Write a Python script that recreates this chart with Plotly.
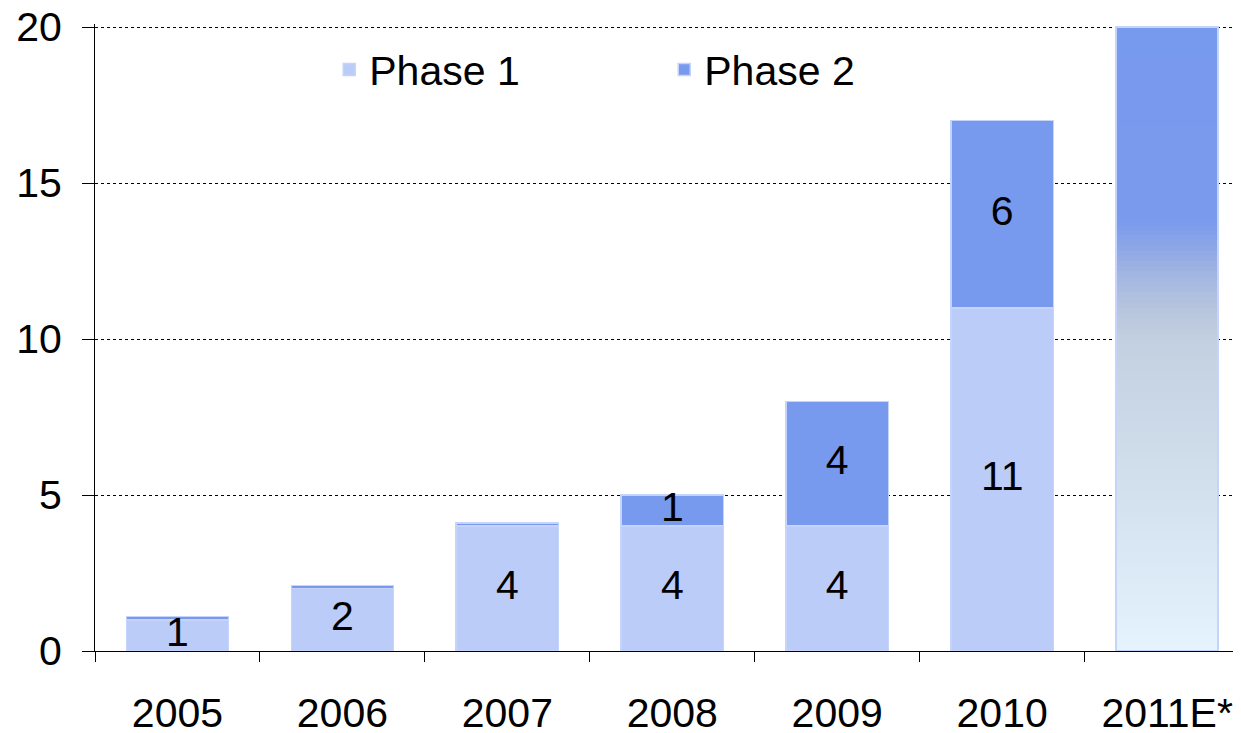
import plotly.graph_objects as go
from plotly.colors import sample_colorscale

years = ["2005", "2006", "2007", "2008", "2009", "2010"]
phase1 = [1, 2, 4, 4, 4, 11]
phase2 = [0.1, 0.1, 0.1, 1, 4, 6]
phase1_labels = ["1", "2", "4", "4", "4", "11"]
phase2_labels = ["", "", "", "1", "4", "6"]
est_year = "2011E*"
est_total = 20
categories = years + [est_year]

C1 = "#BBCCF8"
C2 = "#7799EE"
EDGE = "#C6D3FA"
FONT = "Liberation Sans, Arial, sans-serif"
FS = 41
BW = 0.62

grad_scale = [
    [0.0, "#E5F3FF"], [0.25, "#D3E1EE"], [0.5, "#C3D0E0"], [0.55, "#B6C5DD"],
    [0.6, "#A4B7E1"], [0.65, "#8CA5E7"], [0.69, "#7A9AED"], [1.0, C2],
]

fig = go.Figure()
fig.add_trace(go.Bar(x=years, y=phase1, name="Phase 1", width=BW,
                     marker=dict(color=C1, line=dict(color=EDGE, width=1.5))))
fig.add_trace(go.Bar(x=years, y=phase2, name="Phase 2", width=BW,
                     marker=dict(color=C2, line=dict(color=EDGE, width=1.5))))

# gradient bar for the estimate, rendered as thin stacked slices
n = 120
step = est_total / n
cols = sample_colorscale(grad_scale, [(i + 0.5) / n for i in range(n)])
fig.add_trace(go.Bar(x=[est_year] * n, y=[step] * n, width=BW, showlegend=False,
                     marker=dict(color=cols, line=dict(width=0)), hoverinfo="skip"))
# outline of estimate bar on an overlaying axis so it is not stacked
fig.add_trace(go.Bar(x=[est_year], y=[est_total], width=BW, yaxis="y2", showlegend=False,
                     marker=dict(color="rgba(0,0,0,0)", line=dict(color=EDGE, width=1.5))))

# value labels
lx, ly, lt = [], [], []
for c, a, b, ta, tb in zip(years, phase1, phase2, phase1_labels, phase2_labels):
    lx.append(c); ly.append(a / 2); lt.append(ta)
    if tb:
        lx.append(c); ly.append(a + b / 2); lt.append(tb)
fig.add_trace(go.Scatter(x=lx, y=ly, text=lt, mode="text", showlegend=False,
                         textfont=dict(family=FONT, size=FS, color="black"),
                         cliponaxis=False, hoverinfo="skip"))

fig.update_layout(
    width=1233, height=725,
    margin=dict(l=87, r=0, t=16, b=82, autoexpand=False),
    paper_bgcolor="white", plot_bgcolor="white",
    barmode="stack", bargap=0.38,
    font=dict(family=FONT, size=FS, color="black"),
    showlegend=True,
    legend=dict(orientation="h", x=0.2044, y=0.927, xanchor="left", yanchor="middle",
                font=dict(family=FONT, size=FS), entrywidth=290, entrywidthmode="pixels",
                bgcolor="rgba(0,0,0,0)", traceorder="normal"),
    xaxis=dict(type="category", categoryorder="array", categoryarray=categories,
               range=[-0.5, 6.448], showline=True, linecolor="black", linewidth=1,
               ticks="outside", tickson="boundaries", ticklen=10, tickcolor="black",
               showgrid=False, tickfont=dict(size=FS), ticklabelstandoff=26,
               automargin=False, ticklabeloverflow="allow"),
    yaxis=dict(range=[0, 20.1], tickvals=[0, 5, 10, 15, 20], showline=True, linecolor="black",
               linewidth=1, ticks="outside", ticklen=12, tickcolor="black",
               showgrid=True, gridcolor="black", griddash="dot", gridwidth=1,
               zeroline=False, tickfont=dict(size=FS), ticklabelstandoff=12,
               automargin=False, ticklabeloverflow="allow"),
    yaxis2=dict(overlaying="y", matches="y", visible=False),
)

fig.write_html("out.html")
